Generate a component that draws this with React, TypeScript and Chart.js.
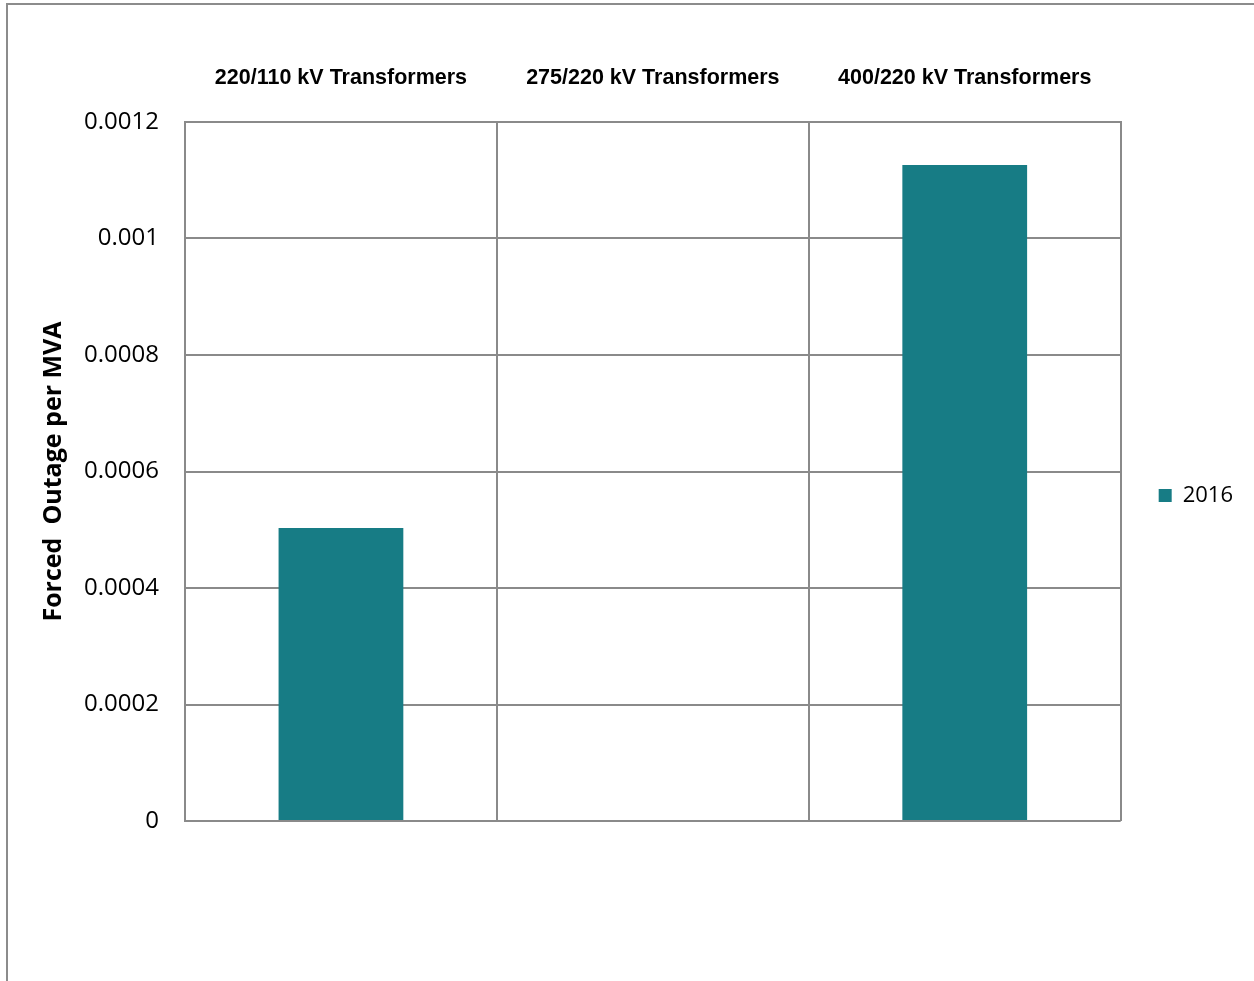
import React, { useEffect, useRef } from "react";
import { Chart, registerables } from "chart.js";

Chart.register(...registerables);

const categories: string[] = [
  "220/110 kV Transformers",
  "275/220 kV Transformers",
  "400/220 kV Transformers",
];
const seriesName = "2016";
const values2016: (number | null)[] = [0.000503, null, 0.001126];
const yMin = 0;
const yMax = 0.0012;
const yStep = 0.0002;
const yTitle = "Forced  Outage per MVA";

const GRID = "#8a8a8a";
const BAR = "#177C85";

export default function App() {
  const ref = useRef<HTMLCanvasElement | null>(null);

  useEffect(() => {
    if (!ref.current) return;
    const chart = new Chart(ref.current, {
      type: "bar",
      data: {
        labels: categories,
        datasets: [
          {
            label: seriesName,
            data: values2016,
            backgroundColor: BAR,
            borderWidth: 0,
            categoryPercentage: 1,
            barPercentage: 0.4,
          },
        ],
      },
      options: {
        responsive: false,
        animation: false,
        devicePixelRatio: 1,
        layout: { padding: { top: 10, right: 11, left: 0, bottom: 0 } },
        plugins: {
          legend: {
            position: "right",
            labels: {
              boxWidth: 13,
              boxHeight: 13,
              padding: 38,
              color: "#000",
              font: { family: "'Open Sans'", size: 22 },
            },
          },
          tooltip: { enabled: false },
        },
        scales: {
          x: {
            type: "category",
            position: "top",
            grid: { color: GRID, lineWidth: 2, drawTicks: false, offset: true },
            border: { display: true, color: GRID, width: 2 },
            ticks: {
              color: "#000",
              padding: 31,
              maxRotation: 0,
              autoSkip: false,
              font: { family: "'Liberation Sans'", size: 21.5, weight: "bold" },
            },
            afterFit: (s: any) => {
              s.height = 112;
            },
          },
          x2: {
            type: "category",
            position: "bottom",
            display: true,
            grid: { display: false },
            border: { display: false },
            ticks: { display: false },
            afterFit: (s: any) => {
              s.height = 160;
            },
          },
          y: {
            min: yMin,
            max: yMax,
            grid: { color: GRID, lineWidth: 2, drawTicks: false },
            border: { display: true, color: GRID, width: 2 },
            ticks: {
              stepSize: yStep,
              padding: 26,
              color: "#000",
              font: { family: "'Open Sans'", size: 24 },
              callback: (v: any) => String(parseFloat(Number(v).toFixed(4))),
            },
            title: {
              display: true,
              text: yTitle,
              color: "#000",
              padding: { top: 39, bottom: 0 },
              font: { family: "'Open Sans'", size: 25, weight: "bold" },
            },
            afterFit: (s: any) => {
              s.width = 185;
            },
          },
        },
      },
    } as any);
    return () => chart.destroy();
  }, []);

  return (
    <div
      style={{
        position: "absolute",
        left: 0,
        top: 0,
        width: 1254,
        height: 981,
        overflow: "hidden",
        background: "#fff",
      }}
    >
      <div
        style={{
          position: "absolute",
          left: 6,
          top: 3,
          width: 1400,
          height: 1200,
          border: "2px solid #8c8c8c",
        }}
      />
      <canvas
        ref={ref}
        width={1254}
        height={981}
        style={{ position: "absolute", left: 0, top: 0, width: 1254, height: 981, display: "block" }}
      />
    </div>
  );
}
